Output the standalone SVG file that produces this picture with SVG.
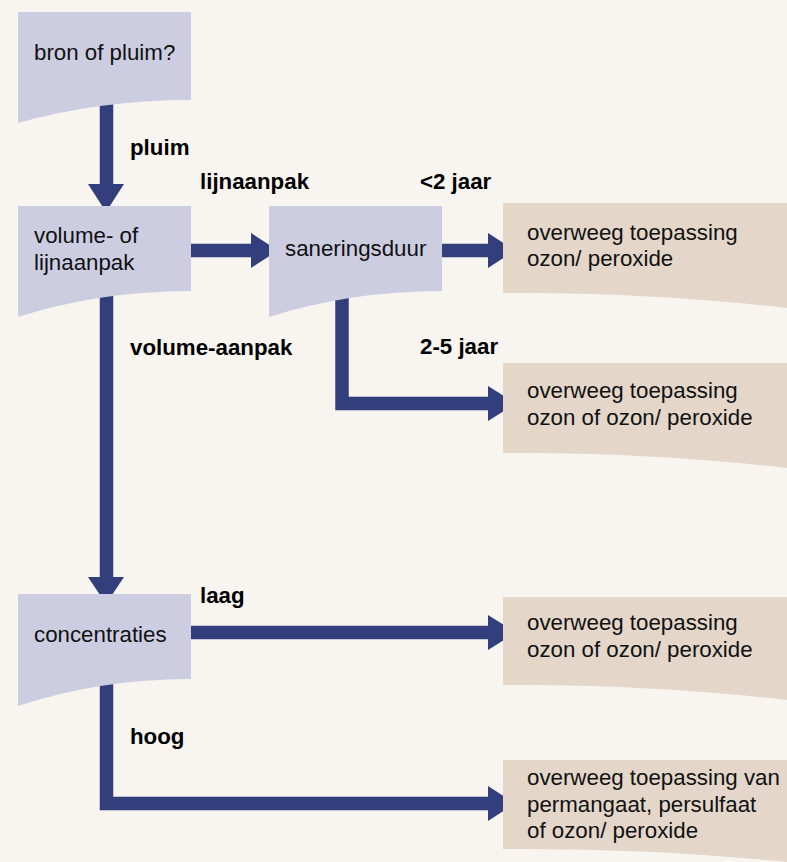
<svg xmlns="http://www.w3.org/2000/svg" width="787" height="862" viewBox="0 0 787 862">
<style>
.q{fill:#cdcde2}
.r{fill:#e4d7ca}
.t{font-family:"Liberation Sans",Arial,sans-serif;font-size:22.3px;fill:#111}
.b{font-family:"Liberation Sans",Arial,sans-serif;font-size:22.3px;font-weight:700;fill:#000}
.s{fill:none;stroke:#333f7d;stroke-width:13.5}
.h{fill:#333f7d}
</style>
<rect width="787" height="862" fill="#f8f5f0"/>
<g id="connectors">
<path class="s" d="M106.5,100V186"/>
<polygon class="h" points="88,184 124,184 106,212"/>
<path class="s" d="M191,250.5H253"/>
<polygon class="h" points="251,233 251,268 278,250.5"/>
<path class="s" d="M442,250.5H490"/>
<polygon class="h" points="488,233 488,268 515,250.5"/>
<path class="s" d="M342,291V403.5H490"/>
<polygon class="h" points="488,386 488,421 516,403.5"/>
<path class="s" d="M106.5,291V579"/>
<polygon class="h" points="88,577 124,577 106,604"/>
<path class="s" d="M191,632.5H490"/>
<polygon class="h" points="488,615 488,650 516,632.5"/>
<path class="s" d="M106.5,679V803.5H490"/>
<polygon class="h" points="488,786 488,821 515,803.5"/>
</g>
<g id="bron">
<path class="q" d="M18,12H191V100Q100,100 18,123Z"/>
<text class="t" x="34" y="60">bron of pluim?</text>
</g>
<g id="volume">
<path class="q" d="M18,206H191V291Q100,291 18,317Z"/>
<text class="t" x="34" y="243">volume- of</text>
<text class="t" x="34" y="270">lijnaanpak</text>
</g>
<g id="sanering">
<path class="q" d="M269,206H442V291Q351,291 269,317Z"/>
<text class="t" x="285" y="256">saneringsduur</text>
</g>
<g id="concentraties">
<path class="q" d="M18,594H191V679Q100,679 18,706Z"/>
<text class="t" x="34" y="642">concentraties</text>
</g>
<g id="result1">
<path class="r" d="M503,203H787V308Q650,292 503,293Z"/>
<text class="t" x="527" y="240">overweeg toepassing</text>
<text class="t" x="527" y="265.5">ozon/ peroxide</text>
</g>
<g id="result2">
<path class="r" d="M503,363H787V468Q650,452 503,453Z"/>
<text class="t" x="527" y="398">overweeg toepassing</text>
<text class="t" x="527" y="425">ozon of ozon/ peroxide</text>
</g>
<g id="result3">
<path class="r" d="M503,597H787V700Q650,684 503,685Z"/>
<text class="t" x="527" y="630">overweeg toepassing</text>
<text class="t" x="527" y="657">ozon of ozon/ peroxide</text>
</g>
<g id="result4">
<path class="r" d="M503,760H787V862Q650,848 503,849Z"/>
<text class="t" x="527" y="785">overweeg toepassing van</text>
<text class="t" x="527" y="811.5">permangaat, persulfaat</text>
<text class="t" x="527" y="838">of ozon/ peroxide</text>
</g>
<g id="labels">
<text class="b" x="130" y="155">pluim</text>
<text class="b" x="200" y="189">lijnaanpak</text>
<text class="b" x="420" y="189">&lt;2 jaar</text>
<text class="b" x="130" y="355">volume-aanpak</text>
<text class="b" x="420" y="354">2-5 jaar</text>
<text class="b" x="200" y="603">laag</text>
<text class="b" x="130" y="744">hoog</text>
</g>
</svg>
